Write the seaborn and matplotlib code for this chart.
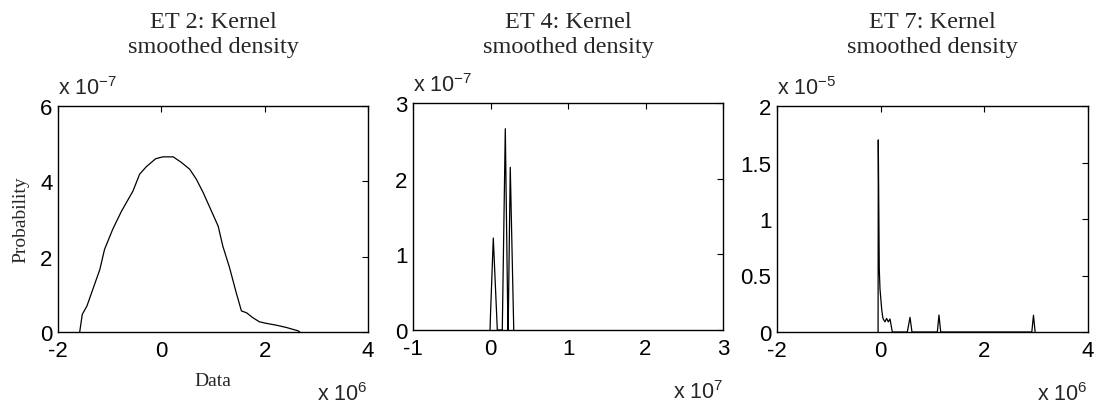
import matplotlib
matplotlib.use("Agg")
import matplotlib.pyplot as plt
import seaborn as sns
import pandas as pd

# ---- data (x in units of the x-exponent, y in units of the y-exponent) ----
titles = ["ET 2: Kernel\nsmoothed density",
          "ET 4: Kernel\nsmoothed density",
          "ET 7: Kernel\nsmoothed density"]

x1 = [-1.58, -1.53, -1.44, -1.35, -1.19, -1.10, -0.94, -0.77, -0.55, -0.42, -0.29,
      -0.11, 0.03, 0.23, 0.39, 0.55, 0.68, 0.81, 0.97, 1.10, 1.19, 1.32, 1.45,
      1.55, 1.65, 1.77, 1.90, 2.03, 2.23, 2.42, 2.65, 2.68]
y1 = [0.0, 0.47, 0.69, 1.04, 1.66, 2.19, 2.73, 3.21, 3.74, 4.19, 4.39,
      4.60, 4.65, 4.65, 4.50, 4.32, 4.05, 3.70, 3.21, 2.81, 2.28, 1.71, 1.04,
      0.56, 0.51, 0.38, 0.27, 0.23, 0.18, 0.12, 0.03, 0.0]

x2 = [-0.006, 0.0, 0.036, 0.088, 0.152, 0.191, 0.225, 0.228, 0.255, 0.30]
y2 = [0.0, 0.2, 1.215, 0.0, 0.0, 2.66, 0.0, 0.0, 2.15, 0.0]

x3 = [-0.05, -0.046, -0.027, -0.013, 0.02, 0.04, 0.05, 0.083, 0.115, 0.147, 0.18, 0.225,
      0.514, 0.566, 0.604, 1.093, 1.125, 1.158, 2.916, 2.948, 2.98]
y3 = [0.0, 1.70, 0.56, 0.38, 0.20, 0.13, 0.115, 0.09, 0.12, 0.09, 0.115, 0.0,
      0.0, 0.13, 0.0, 0.0, 0.15, 0.0, 0.0, 0.148, 0.0]

xlims = [(-2, 4), (-1, 3), (-2, 4)]
ylims = [(0, 6), (0, 3), (0, 2)]
xticks = [[-2, 0, 2, 4], [-1, 0, 1, 2, 3], [-2, 0, 2, 4]]
yticks = [[0, 2, 4, 6], [0, 1, 2, 3], [0, 0.5, 1, 1.5, 2]]
yexp = ["-7", "-7", "-5"]
xexp = ["6", "7", "6"]

sns.set_style("white")
plt.rcParams["font.family"] = ["Liberation Sans", "DejaVu Sans"]
plt.rcParams["axes.unicode_minus"] = False
plt.rcParams["mathtext.fontset"] = "custom"
plt.rcParams["mathtext.rm"] = "Liberation Sans"

W, H = 1098, 410
fig = plt.figure(figsize=(W / 100, H / 100), dpi=100)

# axes boxes in pixels: left, top, right, bottom
boxes = [(58, 107, 368, 333), (413, 104, 723, 331), (777, 107, 1088, 333)]
datasets = [(x1, y1), (x2, y2), (x3, y3)]
serif = ["Liberation Serif", "DejaVu Serif"]

for i, ((l, t, r, b), (xs, ys)) in enumerate(zip(boxes, datasets)):
    ax = fig.add_axes([l / W, 1 - b / H, (r - l) / W, (b - t) / H])
    df = pd.DataFrame({"x": xs, "y": ys})
    sns.lineplot(data=df, x="x", y="y", ax=ax, color="black", linewidth=0.9,
                 sort=False, estimator=None)
    ax.set_xlim(*xlims[i])
    ax.set_ylim(*ylims[i])
    ax.set_xticks(xticks[i])
    ax.set_yticks(yticks[i])
    ax.set_xticklabels([f"{v:g}" for v in xticks[i]])
    ax.set_yticklabels([f"{v:g}" for v in yticks[i]])
    ax.tick_params(direction="in", top=True, right=True, length=4, width=0.8,
                   labelsize=16, colors="black")
    ax.tick_params(axis="x", pad=6)
    ax.tick_params(axis="y", pad=4)
    for s in ax.spines.values():
        s.set_visible(True)
        s.set_color("black")
        s.set_linewidth(1.0)
    ax.set_xlabel("")
    ax.set_ylabel("")
    pad_pt = (t - 53) * 0.72
    ax.set_title(titles[i], family=serif, fontsize=17.5, pad=pad_pt, linespacing=1.22)
    ax.text(0, 1.03, r"x 10$^{\mathregular{" + yexp[i] + "}}$", transform=ax.transAxes,
            ha="left", va="bottom", fontsize=15.5)
    ax.text(1, -0.30, r"x 10$^{\mathregular{" + xexp[i] + "}}$", transform=ax.transAxes,
            ha="right", va="baseline", fontsize=15.5)
    if i == 0:
        ax.set_ylabel("Probability", family=serif, fontsize=14, labelpad=8)
        ax.set_xlabel("Data", family=serif, fontsize=14, labelpad=8)

fig.savefig("out.png", dpi=100)
